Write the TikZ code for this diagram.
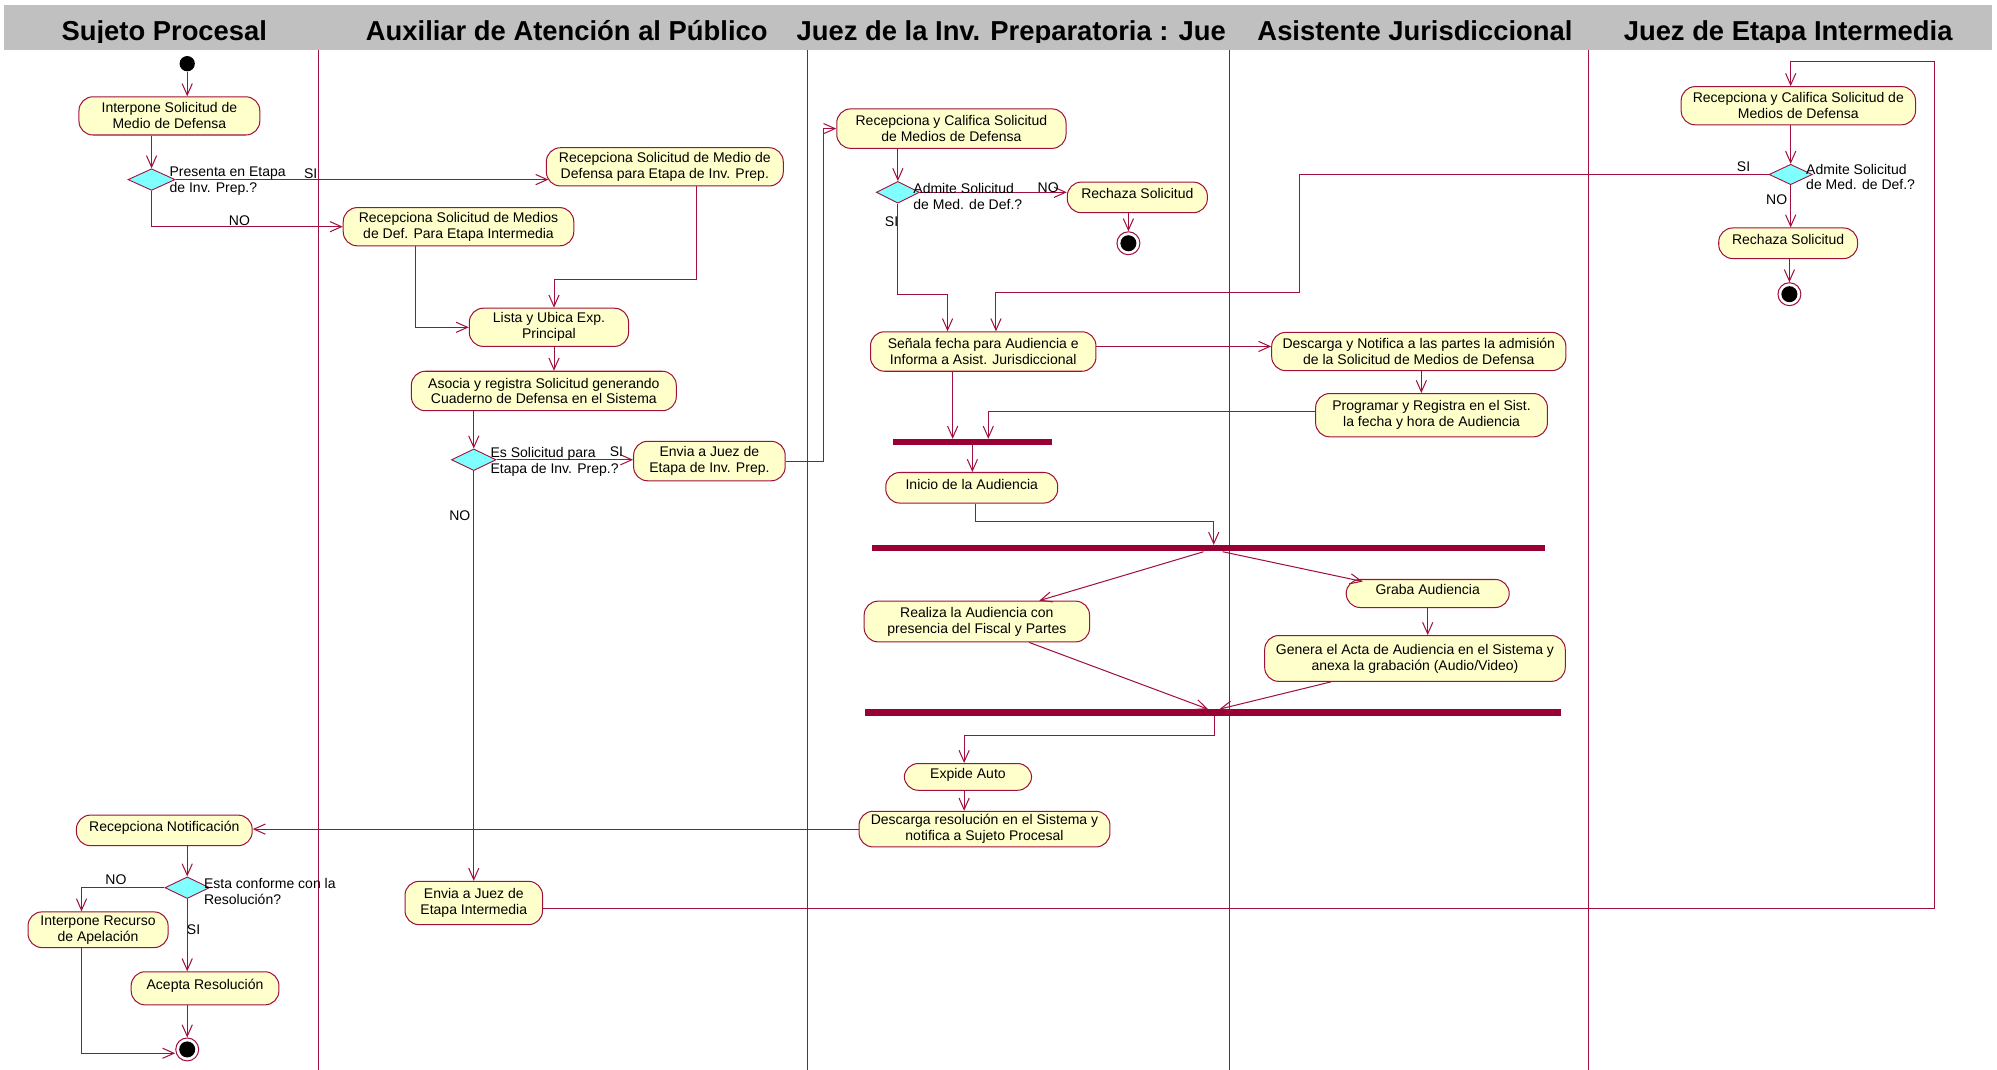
\documentclass[tikz,border=0pt]{standalone}
\usepackage{fontspec}
\setmainfont{Liberation Sans}
\usetikzlibrary{arrows.meta,shapes.geometric}
\definecolor{dred}{RGB}{160,16,60}
\definecolor{bard}{RGB}{153,0,51}
\definecolor{actfill}{RGB}{255,255,204}
\definecolor{dcyan}{RGB}{128,255,255}
\definecolor{hgray}{RGB}{192,192,192}
\tikzset{
  act/.style={draw=dred, fill=actfill, rounded corners=11pt, align=center, line width=0.8pt,
    font=\fontsize{11}{12.5}\selectfont, inner xsep=4pt, inner ysep=1pt},
  oneline/.style={text height=8pt, text depth=6pt},
  dec/.style={diamond, draw=dred, fill=dcyan, line width=0.7pt, inner sep=0pt},
  bar/.style={fill=bard, inner sep=0pt, draw=none},
  startdot/.style={circle, fill=black, inner sep=0pt, minimum size=12pt},
  enddot/.style={circle, draw=dred, fill=white, line width=0.8pt, inner sep=0pt, minimum size=18pt,
    path picture={\fill[black] (path picture bounding box.center) circle (6.3pt);}},
  arr/.style={draw=dred, line width=0.8pt, -{Straight Barb[length=9pt,width=8pt,line width=0.8pt]}},
  lab/.style={font=\fontsize{11}{12.5}\selectfont, inner sep=0pt, align=left},
  lane/.style={draw=dred, line width=0.6pt},
  hdr/.style={font=\fontsize{21.5}{24}\selectfont\bfseries, inner sep=0pt, anchor=base}
}
\begin{document}
\begin{tikzpicture}[x=1pt,y=-1pt]
\useasboundingbox (0,0) rectangle (1568,840);
% header
\fill[hgray] (3,4) rectangle (1564,39);
\begin{scope}
\clip (0,0) rectangle (1568,33.5);
\node[hdr] (h1) at (129,31.5) {Sujeto Procesal};
\node[hdr] (h2) at (445,31.5) {Auxiliar de Atención al Público};
\node[hdr] (h3) at (794,31.5) {Juez de la Inv. Preparatoria : Jue};
\node[hdr] (h4) at (1111,31.5) {Asistente Jurisdiccional};
\node[hdr] (h5) at (1404,31.5) {Juez de Etapa Intermedia};
\end{scope}
% lanes
\draw[lane] (250,39) -- (250,840);
\draw[lane] (634,39) -- (634,840);
\draw[lane] (965,39) -- (965,840);
\draw[lane] (1247,39) -- (1247,840);

% nodes: Sujeto Procesal
\node[startdot] (s0) at (147,50) {};
\node[act, minimum width=142pt, minimum height=30pt] (n1) at (133,91) {Interpone Solicitud de\\Medio de Defensa};
\node[dec, minimum width=37pt, minimum height=17pt] (d1) at (119,141) {};
\node[act, oneline, minimum width=138pt, minimum height=24pt] (rn) at (129,652) {Recepciona Notificación};
\node[dec, minimum width=35pt, minimum height=17pt] (d4) at (147,697) {};
\node[act, minimum width=110pt, minimum height=28pt] (ir) at (77,730) {Interpone Recurso\\de Apelación};
\node[act, oneline, minimum width=116pt, minimum height=26pt] (ac) at (161,776) {Acepta Resolución};
\node[enddot] (e2) at (147,824) {};

% Auxiliar
\node[act, minimum width=186pt, minimum height=30pt] (r1) at (522,131) {Recepciona Solicitud de Medio de\\Defensa para Etapa de Inv. Prep.};
\node[act, minimum width=181pt, minimum height=30pt] (r2) at (360,178) {Recepciona Solicitud de Medios\\de Def. Para Etapa Intermedia};
\node[act, minimum width=125pt, minimum height=30pt] (lu) at (431,257) {Lista y Ubica Exp.\\Principal};
\node[act, minimum width=208pt, minimum height=31pt] (as) at (427,307) {Asocia y registra Solicitud generando\\Cuaderno de Defensa en el Sistema};
\node[dec, minimum width=35pt, minimum height=17pt] (d2) at (372,361) {};
\node[act, minimum width=119pt, minimum height=31pt] (ej) at (557,362) {Envia a Juez de\\Etapa de Inv. Prep.};
\node[act, minimum width=108pt, minimum height=34pt] (ei) at (372,709) {Envia a Juez de\\Etapa Intermedia};

% Juez Inv Prep
\node[act, minimum width=180pt, minimum height=31pt] (rc1) at (747,101) {Recepciona y Califica Solicitud\\de Medios de Defensa};
\node[dec, minimum width=34pt, minimum height=17pt] (d3) at (705,151) {};
\node[act, oneline, minimum width=110pt, minimum height=24pt] (rz1) at (893,155) {Rechaza Solicitud};
\node[enddot] (e1) at (886,191) {};
\node[act, minimum width=177pt, minimum height=31pt] (se) at (772,276) {Señala fecha para Audiencia e\\Informa a Asist. Jurisdiccional};
\node[bar, minimum width=125pt, minimum height=4.5pt] (b1) at (763.5,347) {};
\node[act, oneline, minimum width=135pt, minimum height=24pt] (in) at (763,383) {Inicio de la Audiencia};
\node[bar, minimum width=528pt, minimum height=5pt] (b2) at (949,430.5) {};
\node[act, minimum width=177pt, minimum height=32pt] (ra) at (767,488) {Realiza la Audiencia con\\presencia del Fiscal y Partes};
\node[bar, minimum width=547pt, minimum height=5pt] (b3) at (952.5,559.5) {};
\node[act, oneline, minimum width=100pt, minimum height=21pt] (ea) at (760,610) {Expide Auto};
\node[act, minimum width=197pt, minimum height=28pt] (dr) at (773,651) {Descarga resolución en el Sistema y\\notifica a Sujeto Procesal};

% Asistente
\node[act, minimum width=231pt, minimum height=30pt] (dn) at (1114,276) {Descarga y Notifica a las partes la admisión\\de la Solicitud de Medios de Defensa};
\node[act, minimum width=182pt, minimum height=34pt] (pr) at (1124,326) {Programar y Registra en el Sist.\\la fecha y hora de Audiencia};
\node[act, oneline, minimum width=128pt, minimum height=22pt] (gr) at (1121,466) {Graba Audiencia};
\node[act, minimum width=236pt, minimum height=36pt] (ge) at (1111,517) {Genera el Acta de Audiencia en el Sistema y\\anexa la grabación (Audio/Video)};

% Juez Etapa Intermedia
\node[act, minimum width=184pt, minimum height=30pt] (rci) at (1412,83) {Recepciona y Califica Solicitud de\\Medios de Defensa};
\node[dec, minimum width=34pt, minimum height=16pt] (d5) at (1406,137) {};
\node[act, oneline, minimum width=109pt, minimum height=24pt] (rz2) at (1404,191) {Rechaza Solicitud};
\node[enddot] (e3) at (1405,231) {};

% helper coordinates
\coordinate (c12) at (1519,48);
\coordinate (c17) at (1020,230);

% connectors
\draw[arr] (s0) -- (s0 |- n1.north);
\draw[arr] (d1.north |- n1.south) -- (d1.north);
\draw[arr] (d1.east) -- ([xshift=2pt]d1.east -| r1.west);
\draw[arr] (d1.south) |- (r2.west);
\draw[arr] ([xshift=25pt]r1.south) -- ++(0,73) -| ([xshift=4pt]lu.north);
\draw[arr] ([xshift=-34pt]r2.south) |- (lu.west);
\draw[arr] ([xshift=4pt]lu.south) -- ([xshift=4pt]lu.south |- as.north);
\draw[arr] (d2.north |- as.south) -- (d2.north);
\draw[arr] (d2.east) -- (d2.east -| ej.west);
\draw[arr] (d2.south) -- (ei.north);
\draw[arr] (ej.east) -- ++(30,0) |- (rc1.west);
\draw[arr] ([yshift=-4pt]ei.east) -| (c12) -| ([xshift=-6pt]rci.north);
\draw[arr] (d3.north |- rc1.south) -- (d3.north);
\draw[arr] (d3.east) -- (d3.east -| rz1.west);
\draw[arr] (e1 |- rz1.south) -- (e1.north);
\draw[arr] (d3.south) -- ++(0,71) -| ([xshift=-28pt]se.north);
\draw[arr] (d5.west) -| (c17) -| ([xshift=10pt]se.north);
\draw[arr] ([yshift=4pt]se.east) -- ([yshift=4pt]se.east -| dn.west);
\draw[arr] ([xshift=2pt]dn.south) -- ([xshift=2pt]dn.south |- pr.north);
\draw[arr] ([yshift=3pt]pr.west) -| ([xshift=12.5pt]b1.north);
\draw[arr] ([xshift=-24pt]se.south) -- ([xshift=-24pt]se.south |- b1.north);
\draw[arr] (b1.south) -- (b1.south |- in.north);
\draw[arr] ([xshift=3pt]in.south) -- ++(0,14) -| ([xshift=4pt]b2.north);
\draw[arr] ([xshift=-4pt]b2.south) -- ([xshift=49pt]ra.north);
\draw[arr] ([xshift=11pt]b2.south) -- ([xshift=-51pt,yshift=-2pt]gr.north);
\draw[arr] (gr.south) -- (gr.south |- ge.north);
\draw[arr] ([xshift=41pt]ra.south) -- ([xshift=-4pt]b3.north);
\draw[arr] ([xshift=-66pt]ge.south) -- ([xshift=5pt]b3.north);
\draw[arr] ([xshift=1pt]b3.south) -- ++(0,15) -| ([xshift=-3pt]ea.north);
\draw[arr] ([xshift=-3pt]ea.south) -- ([xshift=-3pt]ea.south |- dr.north);
\draw[arr] (dr.west) -- (dr.west -| rn.east);
\draw[arr] (d4.north |- rn.south) -- (d4.north);
\draw[arr] (d4.west) -| ([xshift=-13pt]ir.north);
\draw[arr] (d4.south) -- (d4.south |- ac.north);
\draw[arr] (e2 |- ac.south) -- (e2.north);
\draw[arr] ([xshift=-13pt]ir.south) |- ([yshift=-3pt]e2.west);
\draw[arr] (d5.north |- rci.south) -- (d5.north);
\draw[arr] (d5.south) -- (d5.south |- rz2.north);
\draw[arr] (e3 |- rz2.south) -- (e3.north);

% labels
\node[lab, anchor=west] (t1) at (133,142) {Presenta en Etapa\\de Inv. Prep.?};
\node[lab] (t2) at (244,136) {SI};
\node[lab] (t3) at (188,173) {NO};
\node[lab, anchor=west] (t4) at (385,363) {Es Solicitud para\\Etapa de Inv. Prep.?};
\node[lab] (t5) at (484,355) {SI};
\node[lab] (t6) at (361,405) {NO};
\node[lab, anchor=west] (t7) at (717,154) {Admite Solicitud\\de Med. de Def.?};
\node[lab] (t8) at (823,147) {NO};
\node[lab] (t9) at (700,174) {SI};
\node[lab] (t10) at (1369,131) {SI};
\node[lab, anchor=west] (t11) at (1418,139) {Admite Solicitud\\de Med. de Def.?};
\node[lab] (t12) at (1395,157) {NO};
\node[lab, anchor=west] (t13) at (160,700) {Esta conforme con la\\Resolución?};
\node[lab] (t14) at (91,691) {NO};
\node[lab] (t15) at (152,730) {SI};
\end{tikzpicture}
\end{document}
